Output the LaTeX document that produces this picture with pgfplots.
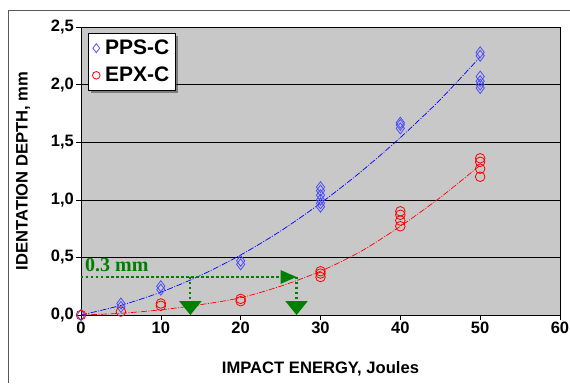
\documentclass[border=0pt]{standalone}
\usepackage{pgfplots}
\pgfplotsset{compat=1.18}
\usepackage{fontspec}
\setmainfont{Liberation Sans}
\newfontfamily\serifb{Liberation Serif}
\usetikzlibrary{arrows.meta,shadows}
\definecolor{plotgray}{RGB}{200,200,200}
\definecolor{dgreen}{RGB}{0,128,0}
\begin{document}
\begin{tikzpicture}[x=1pt,y=1pt]
\useasboundingbox (-81,-68) rectangle (489,315);
\draw[gray!70!black, line width=0.8pt] (-73,-68) -- (-73,305) -- (489,305);
\begin{axis}[
  at={(0,0)}, anchor=origin,
  scale only axis, width=479pt, height=288pt,
  xmin=0, xmax=60, ymin=0, ymax=2.5,
  xtick={0,10,...,60}, ytick={0,0.5,...,2.5},
  axis background/.style={fill=plotgray},
  ymajorgrids, grid style={black, line width=0.6pt},
  axis line style={black, line width=0.8pt},
  tick align=outside, tick style={black, line width=0.6pt},
  major tick length=5pt,
  xtick pos=bottom, ytick pos=left,
  /pgf/number format/assume math mode=true,
  yticklabel style={font=\bfseries\fontsize{16.5}{16.5}\selectfont, inner sep=2pt, /pgf/number format/.cd, fixed, fixed zerofill, precision=1, use comma},
  xticklabel style={font=\bfseries\fontsize{16.5}{16.5}\selectfont, inner sep=2pt},
  xlabel={\bfseries IMPACT ENERGY, Joules},
  ylabel={\bfseries IDENTATION DEPTH, mm},
  xlabel style={font=\fontsize{16.6}{16.6}\selectfont, at={(axis description cs:0.5,0)}, anchor=center, yshift=-54pt},
  ylabel style={font=\fontsize{16.6}{16.6}\selectfont, at={(axis description cs:0,0.5)}, anchor=center, rotate=0, yshift=58pt},
  legend style={at={(axis cs:0.9,2.45)}, anchor=north west, draw=black, fill=white, line width=0.6pt,
    font=\bfseries\fontsize{21}{21}\selectfont, row sep=7pt, inner xsep=4pt, inner ysep=5pt,
    /tikz/every odd column/.append style={column sep=3pt},
    drop shadow={shadow xshift=2.5pt, shadow yshift=-2.5pt, fill=black!80}},
  legend cell align=left,
  clip=false,
]
\addplot[only marks, mark=diamond, mark size=5.5pt, mark options={blue!70!white, line width=0.8pt}, legend image post style={mark size=4.5pt}] coordinates {
 (0,0) (5,0.07) (5,0.10) (10,0.22) (10,0.25) (20,0.44) (20,0.47)
 (30,0.94) (30,0.97) (30,1.00) (30,1.04) (30,1.08) (30,1.11)
 (40,1.62) (40,1.65) (40,1.67)
 (50,1.97) (50,2.00) (50,2.03) (50,2.07) (50,2.25) (50,2.28)
};
\addlegendentry{PPS-C}
\addplot[only marks, mark=o, mark size=4.8pt, mark options={red, line width=0.8pt}, legend image post style={mark size=3.8pt}] coordinates {
 (0,0) (5,0.03) (10,0.08) (10,0.10) (20,0.12) (20,0.14)
 (30,0.33) (30,0.36) (30,0.38)
 (40,0.77) (40,0.82) (40,0.87) (40,0.90)
 (50,1.20) (50,1.27) (50,1.33) (50,1.36)
};
\addlegendentry{EPX-C}
\addplot[blue, line width=0.7pt, dash pattern=on 6pt off 1.5pt on 1pt off 1.5pt, forget plot, smooth] coordinates {
 (0,0) (5,0.084) (10,0.198) (15,0.344) (20,0.521) (25,0.729) (30,0.97) (35,1.24) (40,1.54) (45,1.87) (50,2.24)
};
\addplot[red, line width=0.7pt, dash pattern=on 6pt off 1.5pt on 1pt off 1.5pt, forget plot, smooth] coordinates {
 (0,0) (5,0.015) (10,0.045) (15,0.09) (20,0.15) (25,0.25) (30,0.38) (35,0.55) (40,0.77) (45,1.02) (50,1.30)
};
\draw[dgreen, line width=2.2pt, dash pattern=on 2.5pt off 2.5pt] (axis cs:0,0.33) -- (axis cs:25,0.33);
\fill[dgreen] (axis cs:25,0.39) -- (axis cs:27,0.33) -- (axis cs:25,0.27) -- cycle;
\draw[dgreen, line width=2.2pt, dash pattern=on 2.5pt off 2.5pt] (axis cs:13.7,0.33) -- (axis cs:13.7,0.12);
\fill[dgreen] (axis cs:12.3,0.12) -- (axis cs:15.1,0.12) -- (axis cs:13.7,0.0) -- cycle;
\draw[dgreen, line width=2.2pt, dash pattern=on 2.5pt off 2.5pt] (axis cs:27,0.33) -- (axis cs:27,0.12);
\fill[dgreen] (axis cs:25.6,0.12) -- (axis cs:28.4,0.12) -- (axis cs:27,0.0) -- cycle;
\node[anchor=south west, text=dgreen, font=\serifb\bfseries\fontsize{20}{20}\selectfont, inner sep=0pt] at (axis cs:0.5,0.37) {0.3 mm};
\end{axis}
\end{tikzpicture}
\end{document}
